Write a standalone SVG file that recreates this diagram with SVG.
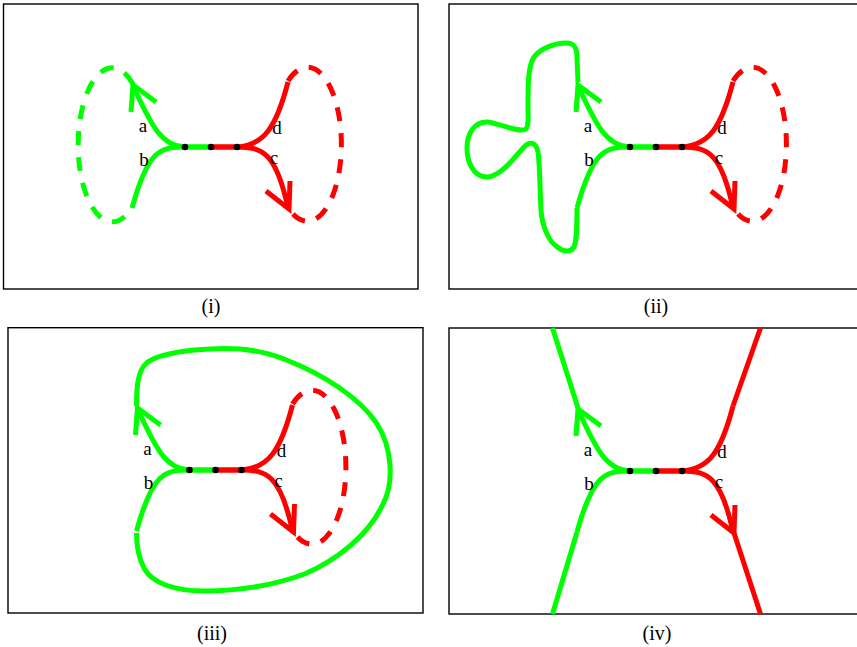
<svg xmlns="http://www.w3.org/2000/svg" width="857" height="647" viewBox="0 0 857 647">
<style>
.frame{fill:none;stroke:#000;stroke-width:1.4}
.g{fill:none;stroke:#00ff00;stroke-width:5}
.r{fill:none;stroke:#ff0000;stroke-width:5}
.dash{stroke-dasharray:14 12}
.dot{fill:#000}
.lbl{font-family:"Liberation Serif","Times New Roman",serif;font-size:19px;text-anchor:middle;fill:#000}
.cap{font-family:"Liberation Serif","Times New Roman",serif;font-size:20px;text-anchor:middle;fill:#000}
</style>
<rect width="857" height="647" fill="#fff"/>

<g id="panel-i">
  <rect class="frame" x="3.5" y="4" width="414.5" height="285"/>
  <g id="connectors-i">
    <path class="g" d="M211,147 L185,147 C160,146 150,122 133,86"/>
    <path class="g" d="M211,147 L185,147 C160,147 148,150 132,208"/>
    <path class="g" d="M131,112 L133,85 L156,102"/>
    <path class="g dash" d="M133,84 A34,77 0 1 0 131,209"/>
    <path class="r" d="M211,147 L237,147 C264,145 276,128 288,82"/>
    <path class="r" d="M211,147 L237,147 C262,147 276,152 288,208"/>
    <path class="r" d="M266,191 L289,209 L290,181"/>
    <path class="r dash" d="M288,81 A34,77 0 1 1 289,209"/>
  </g>
  <g id="nodes-i">
    <circle class="dot" cx="185" cy="147" r="3.3"/>
    <circle class="dot" cx="211" cy="147" r="3.3"/>
    <circle class="dot" cx="237" cy="147" r="3.3"/>
  </g>
  <text class="lbl" x="143" y="132">a</text>
  <text class="lbl" x="144" y="166">b</text>
  <text class="lbl" x="274" y="164">c</text>
  <text class="lbl" x="277" y="134">d</text>
  <text class="cap" x="211" y="313">(i)</text>
</g>

<g id="panel-ii" transform="translate(445,0)">
  <rect class="frame" x="4" y="4" width="430" height="285"/>
  <g id="connectors-ii">
    <path class="g" d="M211,147 L185,147 C160,146 150,122 133,86"/>
    <path class="g" d="M211,147 L185,147 C160,147 148,150 132,208"/>
    <path class="g" d="M131,112 L133,85 L156,102"/>
    <path class="g" d="M133,82 L132,58 C132,47 129,43 121,43 C110,43 96,48 89,57 C83,66 83,85 83,105 C83,115 84,126 81,129 C75,133 55,124 43,122 C30,121 22,133 22,148 C22,163 29,177 42,177 C55,177 70,157 79,147 C85,141 91,142 93,152 C95,165 95,195 96,210 C97,225 103,240 111,246 C118,252 125,253 129,247 C132,240 132,225 132,208"/>
    <path class="r" d="M211,147 L237,147 C264,145 276,128 288,82"/>
    <path class="r" d="M211,147 L237,147 C262,147 276,152 288,208"/>
    <path class="r" d="M266,191 L289,209 L290,181"/>
    <path class="r dash" d="M288,81 A34,77 0 1 1 289,209"/>
  </g>
  <g id="nodes-ii">
    <circle class="dot" cx="185" cy="147" r="3.3"/>
    <circle class="dot" cx="211" cy="147" r="3.3"/>
    <circle class="dot" cx="237" cy="147" r="3.3"/>
  </g>
  <text class="lbl" x="143" y="132">a</text>
  <text class="lbl" x="144" y="166">b</text>
  <text class="lbl" x="274" y="164">c</text>
  <text class="lbl" x="277" y="134">d</text>
  <text class="cap" x="211" y="313">(ii)</text>
</g>

<g id="panel-iii" transform="translate(4.5,323)">
  <rect class="frame" x="3.5" y="4.7" width="415" height="285.3"/>
  <g id="connectors-iii">
    <path class="g" d="M211,147 L185,147 C160,146 150,122 133,86"/>
    <path class="g" d="M211,147 L185,147 C160,147 148,150 132,208"/>
    <path class="g" d="M131,112 L133,85 L156,102"/>
    <path class="g" d="M132,83 C132,65 133,48 142,40 C152,32 170,29 190,27 C220,24 250,24 282,37 C320,52 355,75 372,100 C388,125 390,160 378,182 C365,210 335,236 300,251 C270,262 235,268 200,268 C170,268 148,260 140,246 C134,235 132,222 132,210"/>
    <path class="r" d="M211,147 L237,147 C264,145 276,128 288,82"/>
    <path class="r" d="M211,147 L237,147 C262,147 276,152 288,208"/>
    <path class="r" d="M266,191 L289,209 L290,181"/>
    <path class="r dash" d="M288,81 A34,77 0 1 1 289,209"/>
  </g>
  <g id="nodes-iii">
    <circle class="dot" cx="185" cy="147" r="3.3"/>
    <circle class="dot" cx="211" cy="147" r="3.3"/>
    <circle class="dot" cx="237" cy="147" r="3.3"/>
  </g>
  <text class="lbl" x="143" y="132">a</text>
  <text class="lbl" x="144" y="166">b</text>
  <text class="lbl" x="274" y="164">c</text>
  <text class="lbl" x="277" y="134">d</text>
  <text class="cap" x="207.5" y="317">(iii)</text>
</g>

<g id="panel-iv" transform="translate(445,324)">
  <rect class="frame" x="4" y="4" width="430" height="286"/>
  <g id="connectors-iv">
    <path class="g" d="M211,147 L185,147 C160,146 150,122 133,86"/>
    <path class="g" d="M211,147 L185,147 C160,147 148,150 132,208"/>
    <path class="g" d="M131,112 L133,85 L156,102"/>
    <path class="g" d="M133,84 L107.5,4"/>
    <path class="g" d="M132,208 L107.5,290"/>
    <path class="r" d="M211,147 L237,147 C264,145 276,128 288,82"/>
    <path class="r" d="M211,147 L237,147 C262,147 276,152 288,208"/>
    <path class="r" d="M266,191 L289,209 L290,181"/>
    <path class="r" d="M288,82 L315.5,4"/>
    <path class="r" d="M289,209 L315.5,290"/>
  </g>
  <g id="nodes-iv">
    <circle class="dot" cx="185" cy="147" r="3.3"/>
    <circle class="dot" cx="211" cy="147" r="3.3"/>
    <circle class="dot" cx="237" cy="147" r="3.3"/>
  </g>
  <text class="lbl" x="143" y="132">a</text>
  <text class="lbl" x="144" y="166">b</text>
  <text class="lbl" x="274" y="164">c</text>
  <text class="lbl" x="277" y="134">d</text>
  <text class="cap" x="212" y="316">(iv)</text>
</g>
</svg>
